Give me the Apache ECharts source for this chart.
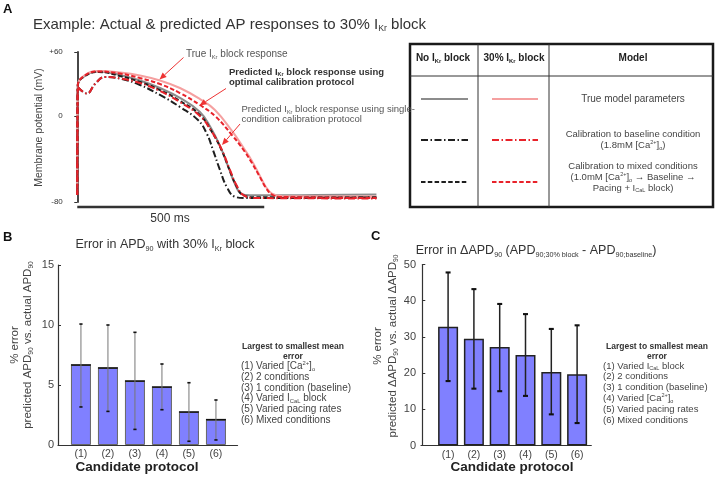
<!DOCTYPE html>
<html><head><meta charset="utf-8">
<script src="https://cdn.jsdelivr.net/npm/echarts@6/dist/echarts.min.js"></script>
<style>html,body{margin:0;padding:0;background:#fff}#c{width:720px;height:477px}</style>
</head><body><div id="c"></div><script>
// ---------------- DATA ----------------
// Panel A: action potential traces [time (ms), membrane potential (mV)]
const trueNoBlock = [[0,-73.5],[1.3,28.3],[20.6,37.6],[58,41.8],[114.2,38.5],[167.8,33.4],[221.1,26.4],[274.6,17.1],[328.1,4.0],[357.5,-10.9],[381.6,-27.7],[403,-46.4],[421.7,-63.2],[437.7,-72.1],[461.8,-73.7],[595.4,-73.6],[800,-73.0]];
const trueBlock = [[0,-73.5],[1.3,28.3],[20.6,38.5],[58,42.3],[114.2,40.9],[167.8,38.1],[221.1,33.4],[274.6,26.4],[328.1,16.1],[368.2,5.9],[413.7,-13.7],[448.4,-31.5],[467.1,-41.7],[488.5,-55.7],[504.6,-66.0],[520.6,-72.1],[547.3,-74.4],[800,-74.9]];
const mixedBlock = [[0,-73.5],[1.3,28.3],[20.6,38.1],[58,41.8],[114.2,39.9],[167.8,35.7],[221.1,30.1],[274.6,21.7],[328.1,10.5],[368.2,0.3],[413.7,-17.5],[448.4,-33.3],[467.1,-43.6],[488.5,-56.7],[504.6,-66.9],[520.6,-73.0],[547.3,-75.3],[800,-76.3]];
const mixedNoBlock = [[0,-73.5],[1.3,28.3],[20.6,37.6],[58,41.3],[114.2,37.6],[167.8,32.0],[221.1,24.5],[274.6,14.3],[328.1,1.2],[360.2,-14.7],[386.9,-32.4],[408.3,-51.1],[427,-66.0],[443.1,-73.5],[475.2,-75.6],[800,-75.8]];
const baselineBlock = [[0,-73.5],[1.3,27.3],[25.9,21.3],[47.3,30.1],[74.1,36.7],[119.5,35.1],[167.8,31.1],[221.1,23.6],[274.6,13.3],[328.1,0.3],[360.2,-14.7],[386.9,-31.5],[408.3,-50.1],[427,-65.1],[445.8,-73.9],[477.9,-76.3],[800,-76.7]];
const baselineNoBlock = [[0,-73.5],[1.3,27.3],[25.9,21.3],[47.3,30.1],[74.1,36.7],[119.5,34.8],[167.8,29.2],[221.1,19.9],[274.6,8.7],[322.8,-3.5],[346.8,-16.5],[362.9,-31.5],[381.6,-50.1],[399.5,-65.7],[421.7,-75.1],[448.4,-76.3],[800,-75.8]];
const voltageTicks = [-80, 0, 60];
const scaleBarMs = 500;
const scaleBarLevel = -84.7;

// Panels B & C
const protocolIndex = [1, 2, 3, 4, 5, 6];
const protocolLabels = ['(1)', '(2)', '(3)', '(4)', '(5)', '(6)'];
const apdErrMean = [6.67, 6.42, 5.33, 4.83, 2.75, 2.11];
const apdErrLow  = [3.17, 2.80, 1.30, 2.94, 0.31, 0.42];
const apdErrHigh = [10.08, 10.0, 9.39, 6.75, 5.19, 3.75];
const dApdErrMean = [32.8, 29.5, 27.2, 25.0, 20.3, 19.7];
const dApdErrLow  = [17.8, 15.7, 15.0, 13.7, 8.6, 6.2];
const dApdErrHigh = [47.8, 43.2, 39.1, 36.3, 32.2, 33.2];
const protocolNamesB = ['(1) Varied [Ca^{2+}]_{o}', '(2) 2 conditions', '(3) 1 condition (baseline)', '(4) Varied I_{CaL} block', '(5) Varied pacing rates', '(6) Mixed conditions'];
const protocolNamesC = ['(1) Varied I_{CaL} block', '(2) 2 conditions', '(3) 1 condition (baseline)', '(4) Varied [Ca^{2+}]_{o}', '(5) Varied pacing rates', '(6) Mixed conditions'];

// ---------------- HELPERS ----------------
const FF = '"Liberation Sans", Arial, Helvetica, sans-serif';
function mk(s) {
  return s.split('\n').map(line => {
    let out = '', last = 0, m; const re = /([_^])\{([^}]*)\}/g;
    while ((m = re.exec(line))) {
      if (m.index > last) out += '{n|' + line.slice(last, m.index) + '}';
      out += '{' + (m[1] === '_' ? 'sub' : 'sup') + '|' + m[2] + '}';
      last = re.lastIndex;
    }
    if (last < line.length) out += '{n|' + line.slice(last) + '}';
    return out;
  }).join('\n');
}
function richSet(F, color, weight, L) {
  const s = Math.round(F * 0.58 * 10) / 10;
  const base = { fontFamily: FF, fill: color, fontWeight: weight };
  return {
    n: Object.assign({}, base, { fontSize: F, lineHeight: L }),
    sub: Object.assign({}, base, { fontSize: s, lineHeight: L, padding: [0.58 * F, 0, 0, 0] }),
    sup: Object.assign({}, base, { fontSize: s, lineHeight: L, padding: [0, 0, 0.55 * F, 0] })
  };
}
function txt(x, y, text, F, opt) {
  opt = opt || {};
  const color = opt.color || '#333', weight = opt.weight || 'normal', L = opt.lh || Math.round(F * 1.25);
  return {
    type: 'text', x: x, y: y, rotation: opt.rotation || 0, silent: true, z: 50,
    style: {
      text: mk(text), rich: richSet(F, color, weight, L),
      fontFamily: FF, fontSize: F, fill: color, fontWeight: weight, lineHeight: L,
      align: opt.align || 'left', verticalAlign: 'middle'
    }
  };
}
function arrow(x1, y1, x2, y2, color) {
  const dx = x2 - x1, dy = y2 - y1, L = Math.hypot(dx, dy), ux = dx / L, uy = dy / L;
  const hl = 7, hw = 3;
  const bx = x2 - ux * hl, by = y2 - uy * hl;
  return [
    { type: 'line', silent: true, z: 50, shape: { x1: x1, y1: y1, x2: bx, y2: by }, style: { stroke: color, lineWidth: 1 } },
    { type: 'polygon', silent: true, z: 50, shape: { points: [[x2, y2], [bx - uy * hw, by + ux * hw], [bx + uy * hw, by - ux * hw]] }, style: { fill: color } }
  ];
}
function hline(x1, x2, y, stroke, w, dash) {
  return { type: 'line', silent: true, z: 50, shape: { x1: x1, y1: y, x2: x2, y2: y }, style: { stroke: stroke, lineWidth: w, lineDash: dash || null } };
}
function vline(x, y1, y2, stroke, w) {
  return { type: 'line', silent: true, z: 50, shape: { x1: x, y1: y1, x2: x, y2: y2 }, style: { stroke: stroke, lineWidth: w } };
}

const GREY = '#8c8c8c', PINK = '#f5a0a0', RED = '#e8222a', BLACK = '#1e1e1e';
const DASHDOT = [7, 2.5, 1.5, 2.5], DASHED = [4.5, 2.3];
const BAR = '#8080ff';

function apSeries(name, data, color, type, z) {
  return { name: name, type: 'line', xAxisIndex: 0, yAxisIndex: 0, data: data, symbol: 'none', showSymbol: false,
    smooth: 0.45, silent: true, z: z,
    lineStyle: { color: color, width: 2, type: type } };
}
function errRender(stroke, capStroke, lw, capW) {
  return function (params, api) {
    const x = api.value(0), lo = api.value(1), hi = api.value(2);
    const p1 = api.coord([x, lo]), p2 = api.coord([x, hi]);
    return { type: 'group', children: [
      { type: 'line', shape: { x1: p1[0], y1: p1[1], x2: p2[0], y2: p2[1] }, style: { stroke: stroke, lineWidth: lw } },
      { type: 'line', shape: { x1: p1[0] - capW, y1: p1[1], x2: p1[0] + capW, y2: p1[1] }, style: { stroke: capStroke, lineWidth: lw + 0.6 } },
      { type: 'line', shape: { x1: p2[0] - capW, y1: p2[1], x2: p2[0] + capW, y2: p2[1] }, style: { stroke: capStroke, lineWidth: lw + 0.6 } }
    ] };
  };
}
function topRender(params, api) {
  const p = api.coord([api.value(0), api.value(1)]);
  return { type: 'line', shape: { x1: p[0] - 10, y1: p[1], x2: p[0] + 10, y2: p[1] }, style: { stroke: '#111', lineWidth: 1.6 } };
}
function protoLabel(v) {
  const i = protocolIndex.indexOf(v);
  return i >= 0 ? protocolLabels[i] : '';
}
const axisTextB = { fontFamily: FF, color: '#444' };

// ---------------- GRAPHICS (text, table, arrows) ----------------
const g = [];
// Panel A
g.push(txt(3, 9, 'A', 13, { weight: 'bold', color: '#111' }));
g.push(txt(33, 24.5, 'Example: Actual & predicted AP responses to 30% I_{Kr} block', 15, { color: '#333' }));
g.push(txt(39.5, 127.5, 'Membrane potential (mV)', 10.5, { color: '#444', align: 'center', rotation: Math.PI / 2 }));
g.push(txt(170, 219, '500 ms', 12, { align: 'center', color: '#333' }));
g.push(txt(186, 54, 'True I_{Kr} block response', 10, { color: '#555' }));
g.push(txt(229, 77, 'Predicted I_{Kr} block response using\noptimal calibration protocol', 9.5, { weight: 'bold', color: '#333', lh: 10 }));
g.push(txt(241.5, 114.5, 'Predicted I_{Kr} block response using single-\ncondition calibration protocol', 9.5, { color: '#555', lh: 10.5 }));
arrow(183.5, 57.5, 159.5, 79.5, '#ee3333').forEach(e => g.push(e));
arrow(226, 88.5, 199.5, 105.5, '#ee3333').forEach(e => g.push(e));
arrow(240, 124, 222, 145, '#ee3333').forEach(e => g.push(e));
// Table
g.push({ type: 'rect', silent: true, z: 40, shape: { x: 410, y: 44, width: 303, height: 163 }, style: { fill: '#fff', stroke: '#1a1a1a', lineWidth: 2.5 } });
g.push(hline(410, 713, 76, '#333', 1));
g.push(vline(478, 44, 207, '#333', 1));
g.push(vline(549, 44, 207, '#333', 1));
g.push(txt(443, 58, 'No I_{Kr} block', 10, { weight: 'bold', color: '#222', align: 'center' }));
g.push(txt(514, 58, '30% I_{Kr} block', 10, { weight: 'bold', color: '#222', align: 'center' }));
g.push(txt(633, 58, 'Model', 10, { weight: 'bold', color: '#222', align: 'center' }));
g.push(hline(421, 468, 99, GREY, 2));
g.push(hline(492, 538, 99, PINK, 2));
g.push(hline(421, 468, 140, BLACK, 2, DASHDOT));
g.push(hline(492, 538, 140, RED, 2, DASHDOT));
g.push(hline(421, 468, 182, BLACK, 2, DASHED));
g.push(hline(492, 538, 182, RED, 2, DASHED));
g.push(txt(633, 99, 'True model parameters', 10, { color: '#444', align: 'center' }));
g.push(txt(633, 139.8, 'Calibration to baseline condition\n(1.8mM [Ca^{2+}]_{o})', 9.5, { color: '#444', align: 'center', lh: 11 }));
g.push(txt(633, 177.4, 'Calibration to mixed conditions\n(1.0mM [Ca^{2+}]_{o} \u2192 Baseline \u2192\nPacing + I_{CaL} block)', 9.5, { color: '#444', align: 'center', lh: 10.8 }));
// Panel B
g.push(txt(3, 237, 'B', 13, { weight: 'bold', color: '#111' }));
g.push(txt(165, 245, 'Error in APD_{90} with 30% I_{Kr} block', 12.5, { align: 'center', color: '#333' }));
g.push(txt(21.5, 345, '% error\npredicted APD_{90} vs. actual APD_{90}', 11.5, { align: 'center', color: '#444', rotation: Math.PI / 2, lh: 13 }));
g.push(txt(137, 467.5, 'Candidate protocol', 13.5, { align: 'center', color: '#222', weight: 'bold' }));
g.push(txt(293, 351.8, 'Largest to smallest mean\nerror', 8.5, { align: 'center', color: '#333', weight: 'bold', lh: 10.3 }));
g.push(txt(241, 393.3, protocolNamesB.join('\n'), 10, { color: '#444', lh: 10.67 }));
// Panel C
g.push(txt(371, 236, 'C', 13, { weight: 'bold', color: '#111' }));
g.push(txt(536, 251, 'Error in \u0394APD_{90} (APD_{90;30% block} - APD_{90;baseline})', 12.5, { align: 'center', color: '#333' }));
g.push(txt(385.5, 346, '% error\npredicted \u0394APD_{90} vs. actual \u0394APD_{90}', 11.5, { align: 'center', color: '#444', rotation: Math.PI / 2, lh: 14.5 }));
g.push(txt(512, 467.5, 'Candidate protocol', 13.5, { align: 'center', color: '#222', weight: 'bold' }));
g.push(txt(657, 351.7, 'Largest to smallest mean\nerror', 8.5, { align: 'center', color: '#333', weight: 'bold', lh: 10.3 }));
g.push(txt(603, 393, protocolNamesC.join('\n'), 9.5, { color: '#444', lh: 10.8 }));

// ---------------- CHART ----------------
const chart = echarts.init(document.getElementById('c'), null, { renderer: 'canvas' });
const option = {
  animation: false,
  backgroundColor: '#fff',
  textStyle: { fontFamily: FF },
  grid: [
    { left: 66.8, top: 52, width: 311.5, height: 150, containLabel: false, outerBoundsMode: 'none' },
    { left: 58, top: 265, width: 179.55, height: 180, containLabel: false, outerBoundsMode: 'none' },
    { left: 421, top: 264.5, width: 170.3, height: 181, containLabel: false, outerBoundsMode: 'none' }
  ],
  xAxis: [
    { gridIndex: 0, type: 'value', min: -28, max: 805, show: false },
    { gridIndex: 1, type: 'value', min: 0.15, max: 6.8, splitLine: { show: false },
      axisLine: { lineStyle: { color: '#333', width: 1.2 } }, axisTick: { show: false },
      axisLabel: Object.assign({ fontSize: 10.5, margin: 4, formatter: protoLabel, customValues: protocolIndex }, axisTextB) },
    { gridIndex: 2, type: 'value', min: -0.05, max: 6.55, splitLine: { show: false },
      axisLine: { lineStyle: { color: '#333', width: 1.2 } }, axisTick: { show: false },
      axisLabel: Object.assign({ fontSize: 10.5, margin: 4, formatter: protoLabel, customValues: protocolIndex }, axisTextB) }
  ],
  yAxis: [
    { gridIndex: 0, type: 'value', min: -80, max: 60, interval: 20, splitLine: { show: false },
      axisLine: { show: true, lineStyle: { color: '#333', width: 1.8 } },
      axisTick: { show: true, length: 3, customValues: voltageTicks, lineStyle: { color: '#333' } },
      axisLabel: { fontSize: 8, color: '#333', margin: 4, fontFamily: FF, customValues: voltageTicks,
        formatter: v => voltageTicks.indexOf(v) < 0 ? '' : (v > 0 ? '+' + v : String(v)) } },
    { gridIndex: 1, type: 'value', min: 0, max: 15, interval: 5, splitLine: { show: false },
      axisLine: { show: true, lineStyle: { color: '#333', width: 1.2 } },
      axisTick: { show: true, inside: true, length: 3, lineStyle: { color: '#333' } },
      axisLabel: Object.assign({ fontSize: 11, margin: 4 }, axisTextB) },
    { gridIndex: 2, type: 'value', min: 0, max: 50, interval: 10, splitLine: { show: false },
      axisLine: { show: true, lineStyle: { color: '#333', width: 1.2 } },
      axisTick: { show: true, inside: true, length: 3, lineStyle: { color: '#333' } },
      axisLabel: Object.assign({ fontSize: 11, margin: 5 }, axisTextB) }
  ],
  series: [
    apSeries('True, no block', trueNoBlock, GREY, 'solid', 2),
    apSeries('True, 30% block', trueBlock, PINK, 'solid', 2),
    apSeries('Baseline calib., no block', baselineNoBlock, BLACK, DASHDOT, 3),
    apSeries('Mixed calib., no block', mixedNoBlock, BLACK, DASHED, 3),
    apSeries('Baseline calib., 30% block', baselineBlock, RED, DASHDOT, 4),
    apSeries('Mixed calib., 30% block', mixedBlock, RED, DASHED, 4),
    { name: 'scale bar', type: 'line', xAxisIndex: 0, yAxisIndex: 0, clip: false, symbol: 'none', silent: true,
      data: [[0, scaleBarLevel], [scaleBarMs, scaleBarLevel]], lineStyle: { color: '#333', width: 2.5 } },
    // Panel B
    { name: 'APD90 error', type: 'bar', xAxisIndex: 1, yAxisIndex: 1, barWidth: 20, silent: true,
      data: protocolIndex.map((x, i) => [x, apdErrMean[i]]),
      itemStyle: { color: BAR, borderColor: '#666', borderWidth: 1 } },
    { name: 'APD90 bar tops', type: 'custom', xAxisIndex: 1, yAxisIndex: 1, silent: true, z: 3,
      encode: { x: 0, y: 1 }, data: protocolIndex.map((x, i) => [x, apdErrMean[i]]), renderItem: topRender },
    { name: 'APD90 error bars', type: 'custom', xAxisIndex: 1, yAxisIndex: 1, silent: true, z: 4,
      encode: { x: 0, y: [1, 2] }, data: protocolIndex.map((x, i) => [x, apdErrLow[i], apdErrHigh[i]]),
      renderItem: errRender('#777', '#111', 1, 1.6) },
    // Panel C
    { name: 'dAPD90 error', type: 'bar', xAxisIndex: 2, yAxisIndex: 2, barWidth: 20, silent: true,
      data: protocolIndex.map((x, i) => [x, dApdErrMean[i]]),
      itemStyle: { color: BAR, borderColor: '#222', borderWidth: 1.5 } },
    { name: 'dAPD90 error bars', type: 'custom', xAxisIndex: 2, yAxisIndex: 2, silent: true, z: 4,
      encode: { x: 0, y: [1, 2] }, data: protocolIndex.map((x, i) => [x, dApdErrLow[i], dApdErrHigh[i]]),
      renderItem: errRender('#222', '#111', 1.5, 2.5) }
  ],
  graphic: g
};
chart.setOption(option);
</script></body></html>
